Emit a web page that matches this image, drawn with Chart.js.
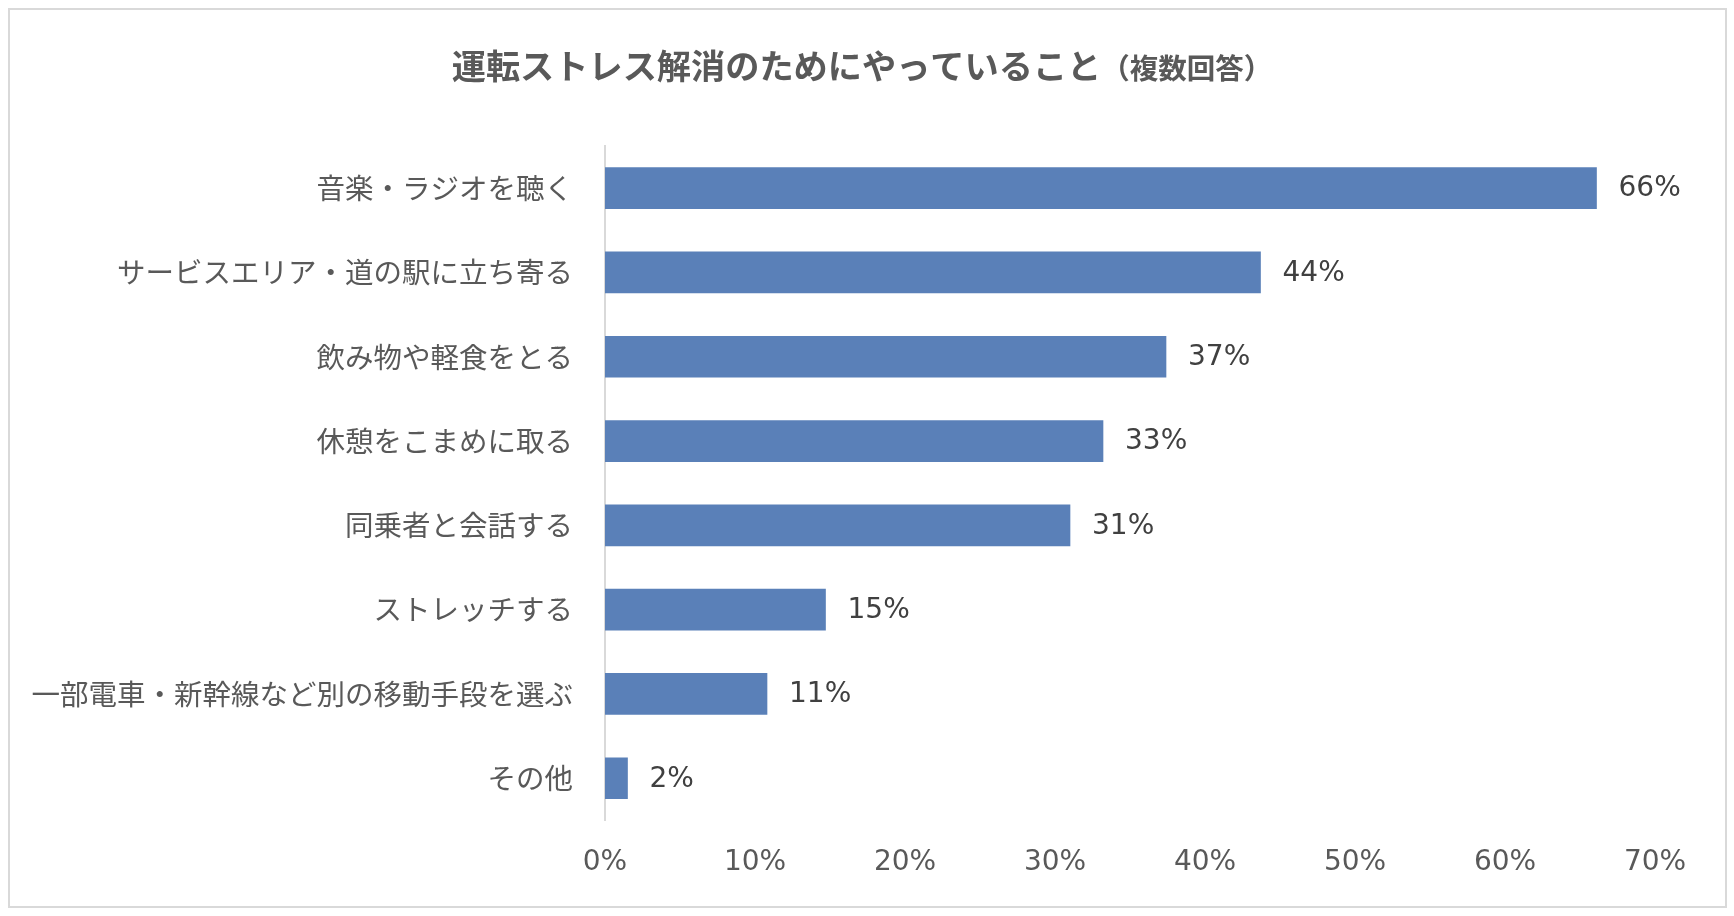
<!DOCTYPE html>
<html>
<head>
<meta charset="utf-8">
<script src="https://cdn.jsdelivr.net/npm/chart.js@4/dist/chart.umd.min.js"></script>
<style>
  html, body { margin: 0; padding: 0; background: #fff; }
  #wrap { width: 1734px; height: 916px; }
</style>
</head>
<body>
<div id="wrap"><canvas id="grafico"></canvas></div>
<script>
// --- Dados ---
const titulo = '運転ストレス解消のためにやっていること';
const subtitulo = '（複数回答）';
const categorias = [
  '音楽・ラジオを聴く',
  'サービスエリア・道の駅に立ち寄る',
  '飲み物や軽食をとる',
  '休憩をこまめに取る',
  '同乗者と会話する',
  'ストレッチする',
  '一部電車・新幹線など別の移動手段を選ぶ',
  'その他'
];
const valores = [66.1, 43.7, 37.4, 33.2, 31.0, 14.7, 10.8, 1.5];
const ticksX = [0, 10, 20, 30, 40, 50, 60, 70];

const FONTE = '"DejaVu Sans", "Noto Sans CJK JP", sans-serif';
const FONTE_JP = '"Noto Sans CJK JP", sans-serif';

// fundo + moldura cinza
const moldura = {
  id: 'moldura',
  beforeDraw(chart) {
    const ctx = chart.ctx;
    ctx.save();
    ctx.fillStyle = '#ffffff';
    ctx.fillRect(0, 0, chart.width, chart.height);
    ctx.strokeStyle = '#d9d9d9';
    ctx.lineWidth = 2;
    ctx.strokeRect(9, 9, 1717, 898);
    ctx.restore();
  }
};

// título em duas partes (tamanhos diferentes)
const tituloDuplo = {
  id: 'tituloDuplo',
  afterDraw(chart) {
    const ctx = chart.ctx;
    ctx.save();
    ctx.fillStyle = '#595959';
    ctx.textBaseline = 'middle';
    const f1 = 'bold 34.2px ' + FONTE_JP;
    const f2 = 'bold 28.5px ' + FONTE_JP;
    ctx.font = f1;
    const w1 = ctx.measureText(titulo).width;
    ctx.font = f2;
    const w2 = ctx.measureText(subtitulo).width;
    const x0 = 862 - (w1 + w2) / 2;
    ctx.font = f1;
    ctx.fillText(titulo, x0, 66);
    ctx.font = f2;
    ctx.fillText(subtitulo, x0 + w1, 68);
    ctx.restore();
  }
};

// rótulos de valor no fim de cada barra
const rotulos = {
  id: 'rotulos',
  afterDatasetsDraw(chart) {
    const ctx = chart.ctx;
    const meta = chart.getDatasetMeta(0);
    ctx.save();
    ctx.font = '28px ' + FONTE;
    ctx.fillStyle = '#404040';
    ctx.textAlign = 'left';
    ctx.textBaseline = 'middle';
    meta.data.forEach((bar, i) => {
      ctx.fillText(Math.round(valores[i]) + '%', bar.x + 22, bar.y + 1);
    });
    ctx.restore();
  }
};

new Chart(document.getElementById('grafico'), {
  type: 'bar',
  data: {
    labels: categorias,
    datasets: [{
      data: valores,
      backgroundColor: '#5a80b8',
      borderWidth: 0,
      barThickness: 41
    }]
  },
  options: {
    indexAxis: 'y',
    responsive: true,
    maintainAspectRatio: false,
    animation: false,
    layout: { padding: { top: 146, right: 79, bottom: 18, left: 0 } },
    plugins: {
      legend: { display: false },
      tooltip: { enabled: false },
      title: { display: false }
    },
    scales: {
      x: {
        min: 0,
        max: 70,
        afterBuildTicks(scale) { scale.ticks = ticksX.map(v => ({ value: v })); },
        grid: { display: false },
        border: { display: false },
        ticks: {
          padding: 18,
          color: '#595959',
          font: { family: FONTE, size: 28 },
          callback: v => v + '%'
        }
      },
      y: {
        afterFit(scale) { scale.width = 605; },
        grid: { display: false },
        border: { display: true, color: '#d9d9d9', width: 2 },
        ticks: {
          padding: 24,
          color: '#595959',
          font: { family: FONTE_JP, size: 28.5 }
        }
      }
    }
  },
  plugins: [moldura, rotulos, tituloDuplo]
});
</script>
</body>
</html>
